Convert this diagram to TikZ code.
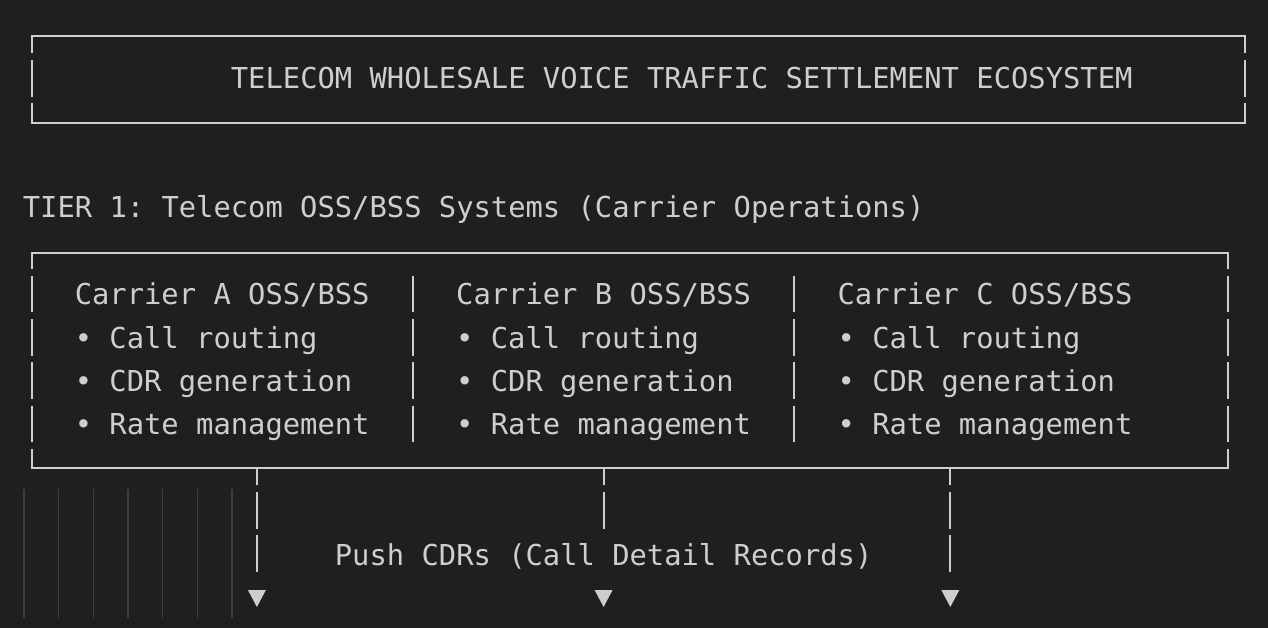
\documentclass[tikz,border=0pt]{standalone}
\usepackage{fontspec}
\newfontfamily\asciifont{DejaVu Sans Mono}
\frenchspacing
\definecolor{bg}{RGB}{31,31,31}
\definecolor{fg}{RGB}{206,206,206}
\definecolor{guide}{RGB}{62,62,62}
\tikzset{
  txt/.style={anchor=base west, inner sep=0pt, outer sep=0pt, text=fg,
    font=\asciifont\fontsize{28.8}{34}\selectfont},
  hline/.style={draw=fg, line width=2pt},
  vbar/.style={draw=fg, line width=2pt, dash pattern=on 36.6pt off 6.73pt},
  guideline/.style={draw=guide, line width=1.3pt},
  tip/.style={fill=fg}
}
\begin{document}
\frenchspacing
\begin{tikzpicture}[x=1pt,y=-1pt]
\fill[bg] (0,0) rectangle (1268,628);
\useasboundingbox (0,0) rectangle (1268,628);

% ---------- title box ----------
\draw[hline] (30.5,36) -- (1246.3,36);
\draw[hline] (30.5,122.7) -- (1246.3,122.7);
\draw[vbar, dash phase=19.3pt] (31.5,36) -- (31.5,122.7);
\draw[vbar, dash phase=19.3pt] (1245.3,36) -- (1245.3,122.7);
\node[txt] (title) at (230.9,88.5) {TELECOM WHOLESALE VOICE TRAFFIC SETTLEMENT ECOSYSTEM};

% ---------- tier heading ----------
\node[txt] (tier) at (22.83,217.5) {TIER 1:\ Telecom OSS/BSS Systems (Carrier Operations)};

% ---------- carrier box ----------
\draw[hline] (30.5,252.7) -- (1228.7,252.7);
\draw[hline] (30.5,467.7) -- (1228.7,467.7);
\draw[vbar, dash phase=20.3pt] (31.5,252.7) -- (31.5,467.7);
\draw[vbar, dash phase=20.3pt] (1227.7,252.7) -- (1227.7,467.7);
\draw[vbar] (412.9,275.7) -- (412.9,442.3);
\draw[vbar] (794.3,275.7) -- (794.3,442.3);

\node[txt] (carA)  at (74.8,304.5) {Carrier A OSS/BSS};
\node[txt] (carA1) at (74.8,348)   {• Call routing};
\node[txt] (carA2) at (74.8,391.5) {• CDR generation};
\node[txt] (carA3) at (74.8,434.8) {• Rate management};

\node[txt] (carB)  at (456.2,304.5) {Carrier B OSS/BSS};
\node[txt] (carB1) at (456.2,348)   {• Call routing};
\node[txt] (carB2) at (456.2,391.5) {• CDR generation};
\node[txt] (carB3) at (456.2,434.8) {• Rate management};

\node[txt] (carC)  at (837.6,304.5) {Carrier C OSS/BSS};
\node[txt] (carC1) at (837.6,348)   {• Call routing};
\node[txt] (carC2) at (837.6,391.5) {• CDR generation};
\node[txt] (carC3) at (837.6,434.8) {• Rate management};

% ---------- indentation guides ----------
\foreach \k in {0,...,6}
  \draw[guideline] (24+34.67*\k,489) -- (24+34.67*\k,618);

% ---------- connectors ----------
\coordinate (sA) at (256.9,467.7);
\coordinate (eA) at (256.9,572);
\coordinate (sB) at (603.6,467.7);
\coordinate (eB) at (603.6,528.6);
\coordinate (sC) at (950.3,467.7);
\coordinate (eC) at (950.3,572);
\draw[vbar, dash phase=19pt] (sA) -- (eA);
\draw[vbar, dash phase=19pt] (sB) -- (eB);
\draw[vbar, dash phase=19pt] (sC) -- (eC);

\foreach \x in {256.9,603.6,950.3}
  \fill[tip] (\x-9,590) -- (\x+9,590) -- (\x,607) -- cycle;

\node[txt] (push) at (334.9,565) {Push CDRs (Call Detail Records)};
\end{tikzpicture}
\end{document}
